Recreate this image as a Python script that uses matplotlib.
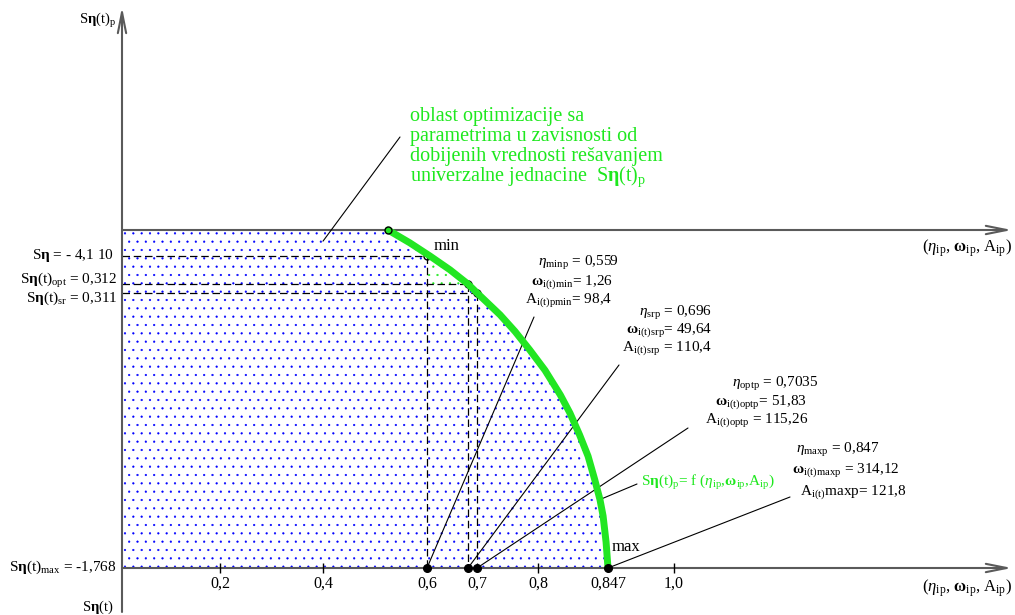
import numpy as np
import matplotlib.pyplot as plt
from matplotlib.transforms import IdentityTransform

plt.rcParams['font.family'] = ['Liberation Serif', 'DejaVu Serif']
plt.rcParams['mathtext.fontset'] = 'custom'
plt.rcParams['mathtext.rm'] = 'Liberation Serif'
plt.rcParams['mathtext.it'] = 'Liberation Serif:italic'
plt.rcParams['mathtext.bf'] = 'Liberation Serif:bold'
plt.rcParams['hatch.linewidth'] = 0.35

# the eta axis of the drawing is schematic, so positions follow these knots
eta_knots = [-0.249, 0, 0.2, 0.4, 0.6, 0.696, 0.7035, 0.8, 0.847, 1.0, 1.79]
px_knots = [0, 122, 220, 323, 427, 468, 477, 538, 608, 674, 1015]

tick_vals = [0.2, 0.4, 0.6, 0.7035, 0.8, 0.847, 1.0]
tick_labels = ['0,2', '0,4', '0,6', '0,7', '0,8', '0,847', '1,0']
tick_marks = [0.2, 0.4, 0.8, 1.0]

# S_eta(t)_p curve, level 1 = upper axis, level 0 = S_eta(t)max axis
curve_eta = [0.525, 0.567, 0.607, 0.654, 0.696, 0.7035, 0.740, 0.7636, 0.787,
             0.8047, 0.815, 0.8215, 0.828, 0.8336, 0.838, 0.8416, 0.8437, 0.8457, 0.847]
curve_lvl = [1.0, 0.962, 0.923, 0.882, 0.840, 0.814, 0.749, 0.700, 0.645,
             0.585, 0.512, 0.458, 0.393, 0.331, 0.263, 0.2025, 0.154, 0.077, 0.0]

# characteristic points min / sr / opt
pt_eta = [0.6, 0.696, 0.7035]
pt_lvl = [0.923, 0.840, 0.814]

GREEN = '#22e622'
AXC = '#5a5a5a'
GR = '#1ee81e'

fig = plt.figure(figsize=(10.15, 6.15), dpi=100)
ax = fig.add_axes([0, 0, 1, 1])
ax.set_xscale('function', functions=(lambda v: np.interp(v, eta_knots, px_knots),
                                      lambda v: np.interp(v, px_knots, eta_knots)))
ax.set_xlim(eta_knots[0], eta_knots[-1])
ax.set_ylim(-47 / 338, 568 / 338)
ax.axis('off')

# dotted optimisation area under the curve
ax.fill([0, 0] + curve_eta, [0, 1] + curve_lvl, facecolor='none',
        edgecolor='blue', hatch='..', linewidth=0, zorder=1)
# green dotted part around the min point
gx = [pt_eta[0], pt_eta[0]] + curve_eta[2:5]
gy = [pt_lvl[1], pt_lvl[0]] + curve_lvl[2:5]
ax.fill(gx, gy, facecolor='white', edgecolor=GR, hatch='..', linewidth=0, zorder=1.5)

# dashed projections
for e, l in zip(pt_eta, pt_lvl):
    ax.plot([0, e], [l, l], color='black', lw=0.9, ls=(0, (6, 3)), zorder=2)
    ax.plot([e, e], [l, 0], color='black', lw=0.9, ls=(0, (6, 3)), zorder=2)
ax.plot(pt_eta, pt_lvl, 'o', ms=5, mfc='none', mec='black', mew=1, zorder=2)

# axes
arr = dict(arrowstyle='->,head_length=1.5,head_width=0.3', lw=1.5, color=AXC,
           shrinkA=0, shrinkB=0)
ax.annotate('', xy=(0, 1 - 7 / 615), xycoords=('data', 'axes fraction'),
            xytext=(0, 1 - 612 / 615), textcoords=('data', 'axes fraction'),
            arrowprops=arr, zorder=3)
for lvl in [0, 1]:
    ax.annotate('', xy=(0.997, lvl), xycoords=('axes fraction', 'data'),
                xytext=(0, lvl), textcoords='data', arrowprops=arr, zorder=3)

ax.vlines(tick_marks, -0.016, 0.016, color='black', lw=1, zorder=3)
for v, s in zip(tick_vals, tick_labels):
    ax.text(v, -0.045, s, ha='center', va='center', fontsize=11.5)

# curve
ax.plot(curve_eta, curve_lvl, color=GREEN, lw=5, solid_capstyle='round',
        solid_joinstyle='round', zorder=4)
ax.plot(curve_eta[0], curve_lvl[0], 'o', ms=5, mfc='none', mec='black', mew=1, zorder=5)
ax.plot(pt_eta + [curve_eta[-1]], [0, 0, 0, 0], 'o', ms=5.5, color='black', zorder=5)

pix = IdentityTransform()
H = 615


def put(x, y, s, ha='left', color='black', size=11):
    fig.text(x, H - y, s, ha=ha, va='center', color=color, fontsize=size, transform=pix)


Se = r'S$\mathbf{\eta}$'
put(116, 21, Se + r'(t)$_{\mathrm{p}}$', ha='right', size=10.5)
put(114, 256, Se + ' = - 4,1 10', ha='right')
put(117, 280, Se + r'(t)$_{\mathrm{opt}}$ = 0,312', ha='right')
put(117, 298, Se + r'(t)$_{\mathrm{sr}}$ = 0,311', ha='right')
put(116, 567, Se + r'(t)$_{\mathrm{max}}$ = -1,768', ha='right')
put(114, 607, Se + '(t)', ha='right', size=10.5)
put(434, 246, 'min', size=12)
put(612, 547, 'max', size=12)

axlab = r'($\eta_{\mathrm{ip}}$, $\mathbf{\omega}_{\mathrm{ip}}$, A$_{\mathrm{ip}}$)'
put(1012, 248, axlab, ha='right', size=12)
put(1012, 588, axlab, ha='right', size=12)

put(619, 263, r'$\eta_{\mathrm{minp}}$ = 0,559', ha='right')
put(613, 282, r'$\mathbf{\omega}_{\mathrm{i(t)min}}$= 1,26', ha='right')
put(612, 300, r'A$_{\mathrm{i(t)pmin}}$= 98,4', ha='right')

put(712, 313, r'$\eta_{\mathrm{srp}}$ = 0,696', ha='right')
put(712, 330, r'$\mathbf{\omega}_{\mathrm{i(t)srp}}$= 49,64', ha='right')
put(712, 348, r'A$_{\mathrm{i(t)srp}}$ = 110,4', ha='right')

put(818, 384, r'$\eta_{\mathrm{optp}}$ = 0,7035', ha='right')
put(807, 402, r'$\mathbf{\omega}_{\mathrm{i(t)optp}}$= 51,83', ha='right')
put(808, 420, r'A$_{\mathrm{i(t)optp}}$ = 115,26', ha='right')

put(880, 450, r'$\eta_{\mathrm{maxp}}$ = 0,847', ha='right')
put(900, 470, r'$\mathbf{\omega}_{\mathrm{i(t)maxp}}$ = 314,12', ha='right')
put(907, 492, r'A$_{\mathrm{i(t)}}$maxp= 121,8', ha='right')

put(641, 483, Se + r'(t)$_{\mathrm{p}}$= f ($\eta_{\mathrm{ip}}$,$\mathbf{\omega}_{\mathrm{ip}}$,A$_{\mathrm{ip}}$)',
    color=GR)

green_lines = ['oblast optimizacije sa', 'parametrima u zavisnosti od',
               'dobijenih vrednosti rešavanjem',
               'univerzalne jednacine  ' + Se + r'(t)$_{\mathrm{p}}$']
for i, s in enumerate(green_lines):
    put(410, 116 + 20.2 * i, s, color=GR, size=14.5)

# leader lines
lead = dict(arrowstyle='-', lw=0.8, color='black', shrinkA=0, shrinkB=0)
leaders = [((0.6, 0), (534, 317)), ((0.696, 0), (619, 365)),
           ((0.7035, 0), (688, 428)), ((0.847, 0), (790, 497)),
           ((0.8416, 0.2025), (637, 484)), ((0.4, 0.967), (400, 137))]
for xy, (tx, ty) in leaders:
    ax.annotate('', xy=xy, xytext=(tx, H - ty), textcoords='figure pixels',
                arrowprops=lead, zorder=3)

fig.savefig('out.png', dpi=100)
